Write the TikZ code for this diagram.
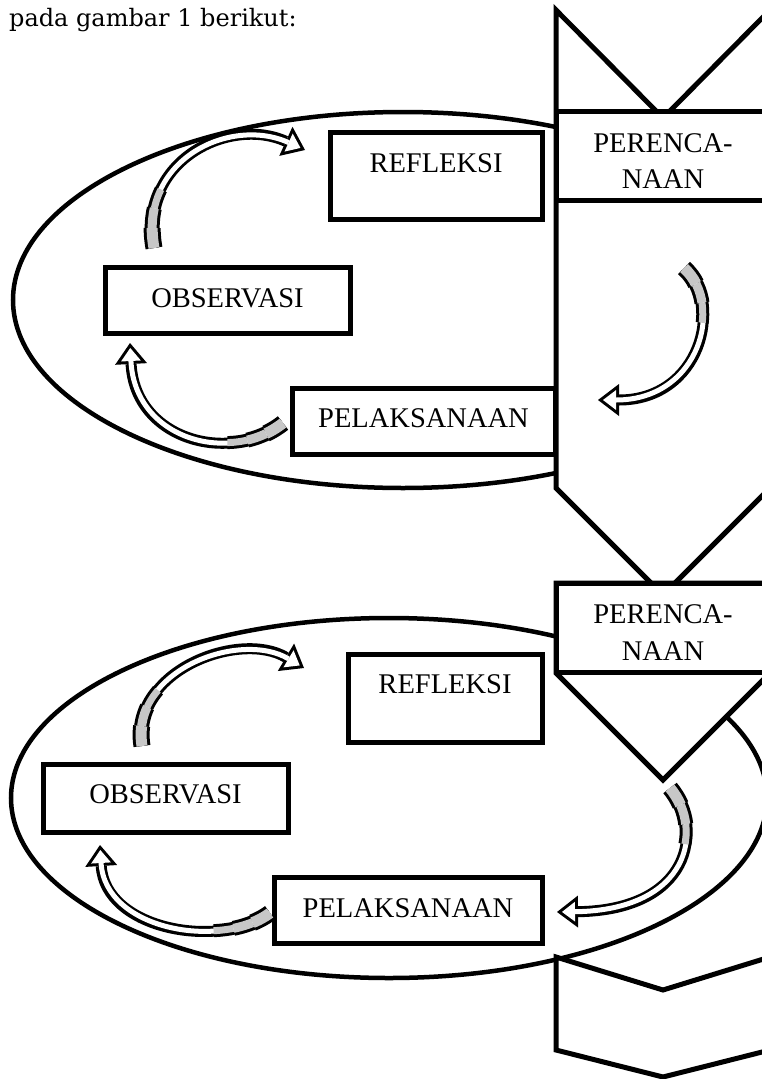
\documentclass[tikz,border=0pt]{standalone}
\usepackage{fontspec}
\setmainfont{Liberation Serif}
\newfontfamily\headfont{DejaVu Serif}
\usepackage{tikz}
\usetikzlibrary{arrows.meta, calc}

\definecolor{tailgray}{gray}{0.78}
\newcommand{\labelfont}{\fontsize{28.5pt}{34pt}\selectfont}

% curved block arrow: tail, control 1, control 2, head
\newcommand{\bentarrow}[4]{%
  \draw[line width=11pt, -{Triangle[length=21pt, width=32pt, line width=0pt]}] #1 .. controls #2 and #3 .. #4;
  \foreach \tailoff/\tailwd in {0/17, 20/15, 40/13}
    \draw[line width=\tailwd pt, dash pattern=on 0pt off \tailoff pt on 20pt off 3000pt] #1 .. controls #2 and #3 .. #4;
  \draw[line width=5pt, white, shorten >=5pt, -{Triangle[length=13pt, width=19.8pt, line width=0pt]}] #1 .. controls #2 and #3 .. #4;
  \foreach \tailoff/\tailwd in {0/11, 20/9, 40/7}
    \draw[line width=\tailwd pt, tailgray, dash pattern=on 0pt off \tailoff pt on 20pt off 3000pt] #1 .. controls #2 and #3 .. #4;
}

\begin{document}
\begin{tikzpicture}[
    x=1pt, y=-1pt,
    box/.style={draw, line width=5pt, fill=white, inner sep=0pt, outer sep=0pt, anchor=north west, font=\labelfont},
    column/.style={draw, line width=5pt, fill=white},
    ring/.style={draw, line width=4.5pt}
]
    \useasboundingbox (0,0) rectangle (762,1079);

    % Heading
    \node[anchor=base west, inner sep=0pt, font=\headfont\fontsize{24pt}{28pt}\selectfont] (title) at (9,26) {pada gambar 1 berikut:};

    % Cycle ellipses
    \draw[ring] (403,300) ellipse [x radius=390pt, y radius=188pt];
    \draw[ring] (389,798) ellipse [x radius=378pt, y radius=180pt];

    % Planning column
    \draw[column] (556,10) -- (663,118) -- (770,10) -- (770,488) -- (663,595) -- (556,488) -- cycle;
    \draw[column] (556,583) -- (770,583) -- (770,673) -- (663,780) -- (556,673) -- cycle;
    \draw[column] (556,957) -- (663,990) -- (770,957) -- (770,1050) -- (663,1077) -- (556,1050) -- cycle;

    % Cycle 1 boxes
    \node[box, minimum width=214pt, text height=41pt, text depth=48pt] (plan1) at (556,111) {PERENCA-};
    \node[anchor=base, font=\labelfont] (plan1n) at ($(plan1.base)+(0,36)$) {NAAN};
    \node[box, minimum width=212pt, text height=40pt, text depth=47pt] (ref1) at (330,132) {REFLEKSI};
    \node[box, minimum width=245pt, text height=40pt, text depth=26pt] (obs1) at (105,267) {OBSERVASI};
    \node[box, minimum width=263pt, text height=39pt, text depth=27pt] (pel1) at (292,388) {PELAKSANAAN};

    % Cycle 2 boxes
    \node[box, minimum width=214pt, text height=40pt, text depth=49pt] (plan2) at (556,583) {PERENCA-};
    \node[anchor=base, font=\labelfont] (plan2n) at ($(plan2.base)+(0,37)$) {NAAN};
    \node[box, minimum width=194pt, text height=39pt, text depth=49pt] (ref2) at (348,654) {REFLEKSI};
    \node[box, minimum width=245pt, text height=39pt, text depth=29pt] (obs2) at (43,764) {OBSERVASI};
    \node[box, minimum width=268pt, text height=40pt, text depth=26pt] (pel2) at (274,877) {PELAKSANAAN};

    % Arrow ends
    \coordinate (a1t) at ($(obs1.north)+(-73.5,-19)$);
    \coordinate (a1h) at ($(ref1.west)+(-25,-25.5)$);
    \coordinate (b1t) at ($(pel1.west)+(-9,2)$);
    \coordinate (b1h) at ($(obs1.south west)+(25,10)$);
    \coordinate (c1t) at ($(plan1.south)+(21,68)$);
    \coordinate (c1h) at ($(pel1.east)+(43,-21)$);
    \coordinate (a2t) at ($(obs2.north)+(-23.5,-18)$);
    \coordinate (a2h) at ($(ref2.west)+(-44,-30)$);
    \coordinate (b2t) at ($(pel2.west)+(-4,3)$);
    \coordinate (b2h) at ($(obs2.south west)+(57,13)$);
    \coordinate (c2t) at ($(plan2.south)+(7,116)$);
    \coordinate (c2h) at ($(pel2.east)+(15,2)$);

    % Curved arrows
    \bentarrow{(a1t)}{($(a1t)+(-16,-88)$)}{($(a1h)+(-75,-34)$)}{(a1h)}
    \bentarrow{(b1t)}{($(b1t)+(-53,42)$)}{($(b1h)+(5,97)$)}{(b1h)}
    \bentarrow{(c1t)}{($(c1t)+(41,37)$)}{($(c1h)+(102,0)$)}{(c1h)}
    \bentarrow{(a2t)}{($(a2t)+(-12,-76)$)}{($(a2h)+(-64,-38)$)}{(a2h)}
    \bentarrow{(b2t)}{($(b2t)+(-50,37)$)}{($(b2h)+(5,85)$)}{(b2h)}
    \bentarrow{(c2t)}{($(c2t)+(35,42)$)}{($(c2h)+(133,-2)$)}{(c2h)}

\end{tikzpicture}
\end{document}
